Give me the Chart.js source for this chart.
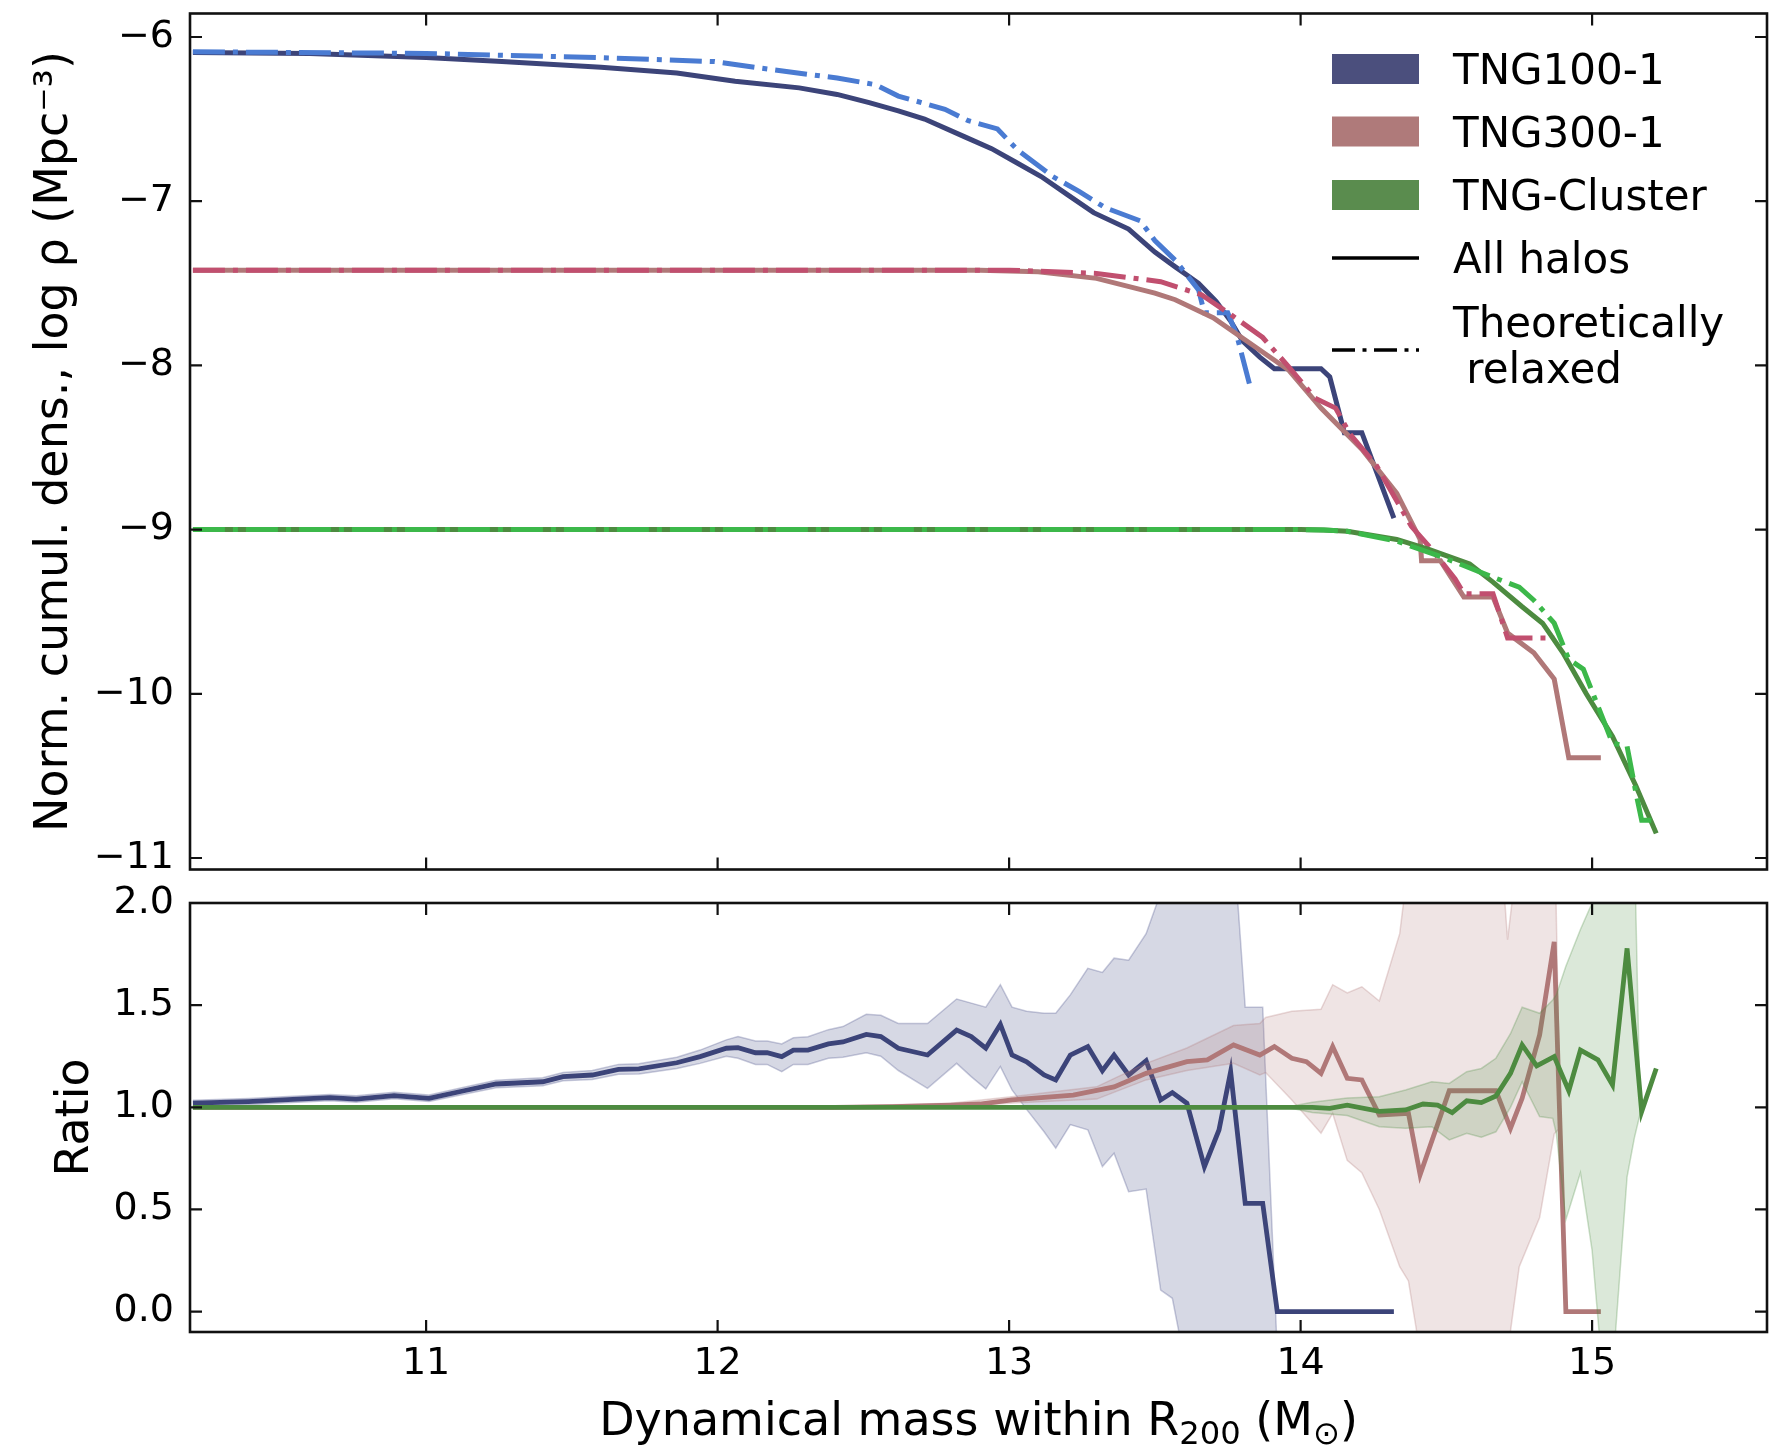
<!DOCTYPE html>
<html><head><meta charset="utf-8">
<script src="https://cdn.jsdelivr.net/npm/chart.js@4.4.1/dist/chart.umd.min.js"></script>
<style>
html,body{margin:0;padding:0;background:#fff;}
#wrap{position:relative;width:1775px;height:1448px;background:#fff;}
#c1{position:absolute;left:0;top:0;}
#c2{position:absolute;left:0;top:880px;}
</style></head><body>
<div id="wrap"><canvas id="c1" width="1775" height="880"></canvas><canvas id="c2" width="1775" height="568"></canvas></div>
<script>
// ---------------- DATA ----------------
const xTicks = [11, 12, 13, 14, 15];
const densityTicks = [-11, -10, -9, -8, -7, -6];
const ratioTicks = [0.0, 0.5, 1.0, 1.5, 2.0];
const xRange = [10.19, 15.6];
const densityRange = [-11.07, -5.857];
const ratioRange = [-0.1, 2.0];

const legendLabels = ['TNG100-1', 'TNG300-1', 'TNG-Cluster', 'All halos', 'Theoretically', ' relaxed'];
const xTitleParts = ['Dynamical mass within R', '200', ' (M', '\u2299', ')'];
const densityTitle = 'Norm. cumul. dens., log \u03C1 (Mpc\u207B\u00B3)';
const ratioTitle = 'Ratio';

// Top panel: cumulative densities
const tng100AllX = [10.2,10.6,11.0,11.26,11.6,11.86,12.06,12.28,12.41,12.52,12.62,12.71,12.85,12.94,13.02,13.11,13.2,13.29,13.41,13.5,13.57,13.65,13.71,13.76,13.80,13.86,13.91,14.07,14.10,14.15,14.21,14.32];
const tng100AllY = [-6.095,-6.10,-6.125,-6.15,-6.185,-6.22,-6.27,-6.31,-6.35,-6.40,-6.45,-6.50,-6.61,-6.68,-6.76,-6.85,-6.96,-7.07,-7.17,-7.31,-7.40,-7.50,-7.61,-7.73,-7.85,-7.95,-8.02,-8.02,-8.07,-8.41,-8.41,-8.93];
const tng100RelaxedX = [10.2,11.0,11.6,11.99,12.19,12.41,12.54,12.62,12.78,12.86,12.96,13.03,13.15,13.24,13.33,13.45,13.5,13.57,13.65,13.67,13.75,13.78,13.83];
const tng100RelaxedY = [-6.09,-6.10,-6.126,-6.15,-6.20,-6.25,-6.29,-6.36,-6.44,-6.51,-6.56,-6.69,-6.85,-6.94,-7.04,-7.12,-7.24,-7.36,-7.54,-7.68,-7.68,-7.81,-8.15];
const tng300AllX = [10.2,12.9,13.1,13.3,13.5,13.57,13.70,13.83,13.96,14.07,14.21,14.33,14.41,14.415,14.48,14.56,14.66,14.71,14.80,14.87,14.92,15.03];
const tng300AllY = [-7.42,-7.42,-7.43,-7.47,-7.56,-7.60,-7.71,-7.87,-8.03,-8.26,-8.51,-8.78,-9.06,-9.19,-9.19,-9.41,-9.41,-9.63,-9.75,-9.91,-10.39,-10.39];
const tng300RelaxedX = [10.2,13.0,13.3,13.52,13.66,13.76,13.87,13.96,14.05,14.12,14.17,14.26,14.38,14.44,14.53,14.56,14.66,14.71,14.87];
const tng300RelaxedY = [-7.42,-7.42,-7.44,-7.49,-7.57,-7.69,-7.83,-8.01,-8.20,-8.26,-8.42,-8.61,-8.98,-9.10,-9.30,-9.39,-9.39,-9.66,-9.66];
const clusterAllX = [10.2,14.0,14.08,14.16,14.33,14.44,14.58,14.66,14.76,14.83,14.90,14.98,15.07,15.15,15.22];
const clusterAllY = [-9.0,-9.0,-9.003,-9.01,-9.06,-9.12,-9.21,-9.32,-9.47,-9.57,-9.75,-10.0,-10.26,-10.56,-10.85];
const clusterRelaxedX = [10.2,14.0,14.08,14.16,14.33,14.49,14.66,14.75,14.80,14.87,14.92,14.97,15.07,15.12,15.15,15.17,15.21];
const clusterRelaxedY = [-9.0,-9.0,-9.003,-9.01,-9.07,-9.17,-9.29,-9.35,-9.43,-9.57,-9.79,-9.85,-10.30,-10.32,-10.60,-10.77,-10.77];

// Bottom panel: ratios
const tng100RatioX = [10.2,10.39,10.56,10.67,10.76,10.89,11.01,11.13,11.24,11.40,11.47,11.57,11.66,11.73,11.86,11.94,12.03,12.07,12.13,12.17,12.22,12.26,12.31,12.38,12.43,12.51,12.56,12.62,12.72,12.82,12.87,12.92,12.97,13.01,13.06,13.12,13.16,13.21,13.27,13.32,13.36,13.41,13.47,13.52,13.56,13.61,13.67,13.72,13.76,13.81,13.87,13.92,14.32];
const tng100RatioY = [1.02,1.028,1.04,1.047,1.04,1.057,1.044,1.081,1.114,1.125,1.15,1.158,1.186,1.188,1.218,1.248,1.289,1.292,1.267,1.267,1.248,1.28,1.28,1.31,1.32,1.357,1.346,1.289,1.256,1.378,1.346,1.289,1.406,1.256,1.223,1.158,1.134,1.256,1.297,1.179,1.256,1.158,1.228,1.036,1.072,1.02,0.709,0.889,1.174,0.53,0.53,0.0,0.0];
const tng100BandX = tng100RatioX.slice(0, 52);
const tng100BandUpper = [1.035,1.043,1.055,1.062,1.056,1.073,1.06,1.098,1.132,1.145,1.17,1.18,1.21,1.213,1.245,1.28,1.33,1.346,1.325,1.325,1.31,1.34,1.345,1.38,1.395,1.455,1.45,1.41,1.41,1.53,1.51,1.49,1.60,1.49,1.47,1.46,1.46,1.55,1.68,1.66,1.73,1.72,1.85,2.05,2.3,2.5,2.5,2.5,2.5,1.49,1.49,-0.2];
const tng100BandLower = [1.005,1.013,1.025,1.032,1.025,1.042,1.028,1.064,1.096,1.105,1.13,1.136,1.162,1.163,1.19,1.215,1.25,1.24,1.21,1.21,1.174,1.21,1.21,1.24,1.245,1.267,1.25,1.18,1.093,1.215,1.15,1.09,1.2,1.085,0.99,0.88,0.80,0.915,0.89,0.71,0.775,0.587,0.60,0.105,0.065,-0.3,-0.5,-0.5,-0.5,-0.5,-0.5,-0.5];

const tng300RatioX = [10.2,12.4,12.6,12.8,12.9,13.01,13.22,13.36,13.47,13.61,13.68,13.77,13.86,13.91,13.97,14.02,14.07,14.11,14.16,14.21,14.27,14.37,14.41,14.51,14.67,14.72,14.76,14.82,14.87,14.91,15.03];
const tng300RatioY = [1.0,1.0,1.003,1.01,1.016,1.036,1.06,1.10,1.166,1.223,1.232,1.305,1.256,1.297,1.24,1.223,1.166,1.297,1.142,1.134,0.962,0.97,0.67,1.081,1.081,0.897,1.044,1.354,1.81,0.0,0.0];
const tng300BandX = [12.4,12.8,13.0,13.3,13.47,13.61,13.77,13.86,13.88,13.97,14.07,14.11,14.16,14.21,14.27,14.34,14.37,14.41,14.62,14.70,14.71,14.75,14.82,14.87,14.89];
const tng300BandUpper = [1.005,1.02,1.05,1.10,1.215,1.29,1.40,1.41,1.44,1.47,1.48,1.60,1.56,1.59,1.52,1.85,2.2,2.5,2.5,2.02,1.82,2.3,2.5,2.5,0.95];
const tng300BandLower = [0.995,1.0,1.02,1.04,1.134,1.18,1.215,1.158,1.17,1.036,0.873,0.97,0.74,0.68,0.50,0.22,0.15,-0.2,-0.2,-0.2,-0.2,0.22,0.46,0.87,0.9];

const clusterRatioX = [10.2,14.0,14.04,14.10,14.16,14.27,14.36,14.42,14.47,14.52,14.57,14.62,14.67,14.72,14.76,14.81,14.87,14.92,14.96,15.02,15.07,15.12,15.17,15.22];
const clusterRatioY = [1.0,1.0,1.0,0.995,1.01,0.98,0.987,1.016,1.011,0.974,1.032,1.023,1.055,1.166,1.305,1.203,1.248,1.081,1.28,1.232,1.109,1.778,0.979,1.19];
const clusterBandX = [13.95,14.04,14.16,14.27,14.36,14.45,14.51,14.57,14.62,14.67,14.72,14.76,14.82,14.865,14.877,14.91,14.96,15.0,15.03,15.07,15.12,15.145,15.165];
const clusterBandUpper = [1.0,1.025,1.045,1.052,1.085,1.125,1.117,1.174,1.19,1.24,1.36,1.49,1.46,1.525,1.55,1.69,1.87,2.0,2.2,2.4,2.4,2.3,0.97];
const clusterBandLower = [1.0,0.975,0.96,0.905,0.897,0.905,0.84,0.873,0.853,0.88,1.0,1.125,0.955,0.946,0.873,0.45,0.68,0.3,-0.2,-0.3,0.66,0.85,0.97];

// ---------------- STYLE ----------------
const FONT = "'DejaVu Sans', 'Liberation Sans', sans-serif";
const C = {
  navy: '#3c4479', blue: '#4a7bd2', rosy: '#b07878', crimson: '#c14f6f', green: '#4d8b40', lime: '#3cb84a',
  navyPatch: '#4b4f7d', rosyPatch: '#af7a7a', greenPatch: '#5a8c4e',
  navyBand: 'rgba(60,70,128,0.21)', navyEdge: 'rgba(60,70,128,0.28)',
  rosyBand: 'rgba(176,120,120,0.2)', rosyEdge: 'rgba(176,120,120,0.28)',
  greenBand: 'rgba(77,139,64,0.2)', greenEdge: 'rgba(77,139,64,0.28)'
};
const LW = 5;
const DASHDOT = [32, 8, 5, 8];
const TICK_SIZE = 38, TITLE_SIZE = 46, LEGEND_SIZE = 42;
Chart.defaults.font.family = FONT;
Chart.defaults.color = '#000';

const pts = (xs, ys) => xs.map((x, i) => ({x: x, y: ys[i]}));
const minus = v => (v < 0 ? '\u2212' + Math.abs(v) : String(v));

function lineDS(xs, ys, color, dash, width) {
  return {data: pts(xs, ys), borderColor: color, borderWidth: width || LW, borderDash: dash || [],
          pointRadius: 0, fill: false, clip: 0, tension: 0};
}
function bandDS(xs, ys, edge, fillColor, isUpper) {
  return {data: pts(xs, ys), borderColor: edge, borderWidth: 1.5, pointRadius: 0,
          backgroundColor: fillColor, fill: isUpper ? '+1' : false, clip: 0, tension: 0};
}

const framePlugin = {
  id: 'frame',
  afterDatasetsDraw(chart, args, opts) {
    const {ctx, chartArea: a, scales} = chart;
    ctx.save();
    ctx.strokeStyle = '#111';
    ctx.lineWidth = 2.2;
    ctx.beginPath();
    const L = 12;
    opts.xTicks.forEach(v => {
      const p = scales.x.getPixelForValue(v);
      ctx.moveTo(p, a.bottom); ctx.lineTo(p, a.bottom - L);
      ctx.moveTo(p, a.top); ctx.lineTo(p, a.top + L);
    });
    opts.yTicks.forEach(v => {
      const p = scales.y.getPixelForValue(v);
      ctx.moveTo(a.left, p); ctx.lineTo(a.left + L, p);
      ctx.moveTo(a.right, p); ctx.lineTo(a.right - L, p);
    });
    ctx.stroke();
    ctx.lineWidth = 2.6;
    ctx.strokeRect(a.left, a.top, a.right - a.left, a.bottom - a.top);
    ctx.restore();
  }
};

const legendPlugin = {
  id: 'legendBox',
  afterDraw(chart) {
    const {ctx, chartArea: a} = chart;
    const x0 = a.right - 435, w = 87, tx = a.right - 314;
    ctx.save();
    const patches = [C.navyPatch, C.rosyPatch, C.greenPatch];
    const pTop = [54, 116.5, 180];
    patches.forEach((col, i) => { ctx.fillStyle = col; ctx.fillRect(x0, pTop[i], w, 30); });
    ctx.strokeStyle = '#000'; ctx.lineWidth = 3.5;
    ctx.beginPath(); ctx.moveTo(x0, 258); ctx.lineTo(x0 + w, 258); ctx.stroke();
    ctx.setLineDash([23, 7.5, 4, 7.5]);
    ctx.beginPath(); ctx.moveTo(x0, 350); ctx.lineTo(x0 + w, 350); ctx.stroke();
    ctx.setLineDash([]);
    ctx.fillStyle = '#000';
    ctx.font = LEGEND_SIZE + 'px ' + FONT;
    ctx.textBaseline = 'alphabetic';
    const base = [84, 147, 210, 273, 337, 383];
    legendLabels.forEach((t, i) => ctx.fillText(t, tx, base[i]));
    ctx.restore();
  }
};

const xTitlePlugin = {
  id: 'xTitle',
  afterDraw(chart) {
    const {ctx, chartArea: a} = chart;
    const S = TITLE_SIZE, sub = 0.7 * S;
    const spec = [[xTitleParts[0], S, 0], [xTitleParts[1], sub, 9], [xTitleParts[2], S, 0], [xTitleParts[3], sub, 9], [xTitleParts[4], S, 0]];
    ctx.save();
    ctx.fillStyle = '#000';
    ctx.textBaseline = 'alphabetic';
    let total = 0;
    spec.forEach(s => { ctx.font = s[1] + 'px ' + FONT; total += ctx.measureText(s[0]).width; });
    let x = (a.left + a.right) / 2 - total / 2;
    const y = 555;
    spec.forEach(s => { ctx.font = s[1] + 'px ' + FONT; ctx.fillText(s[0], x, y + s[2]); x += ctx.measureText(s[0]).width; });
    ctx.restore();
  }
};

function yScale(range, ticks, title, fmt, titlePad) {
  return {
    type: 'linear', min: range[0], max: range[1],
    afterBuildTicks: s => { s.ticks = ticks.map(v => ({value: v})); },
    ticks: {font: {size: TICK_SIZE}, color: '#000', padding: 16, callback: fmt, autoSkip: false},
    grid: {display: false, drawTicks: false}, border: {display: false},
    title: {display: true, text: title, font: {size: TITLE_SIZE}, color: '#000', padding: {top: titlePad, bottom: 0}},
    afterFit: s => { s.width = 190; s.paddingTop = 0; s.paddingBottom = 0; }
  };
}

// ---------------- TOP CHART ----------------
const topSets = [
  lineDS(tng100AllX, tng100AllY, C.navy),
  lineDS(tng100RelaxedX, tng100RelaxedY, C.blue, DASHDOT),
  lineDS(tng300AllX, tng300AllY, C.rosy),
  lineDS(tng300RelaxedX, tng300RelaxedY, C.crimson, DASHDOT),
  lineDS(clusterAllX, clusterAllY, C.green),
  lineDS(clusterRelaxedX, clusterRelaxedY, C.lime, DASHDOT)
];
topSets.forEach((d, i) => d.order = -i);

new Chart(document.getElementById('c1'), {
  type: 'line',
  data: {datasets: topSets},
  options: {
    responsive: false, animation: false, devicePixelRatio: 1,
    layout: {padding: {left: 0, top: 13.5, right: 8, bottom: 10.5}},
    plugins: {legend: {display: false}, tooltip: {enabled: false}, frame: {xTicks: xTicks, yTicks: densityTicks}},
    scales: {
      x: {type: 'linear', min: xRange[0], max: xRange[1], display: false},
      y: yScale(densityRange, densityTicks, densityTitle, v => minus(v), 27)
    }
  },
  plugins: [framePlugin, legendPlugin]
});

// ---------------- BOTTOM CHART ----------------
const botSets = [
  bandDS(tng100BandX, tng100BandUpper, C.navyEdge, C.navyBand, true),
  bandDS(tng100BandX, tng100BandLower, C.navyEdge, C.navyBand, false),
  lineDS(tng100RatioX, tng100RatioY, C.navy, null, 4.8),
  bandDS(tng300BandX, tng300BandUpper, C.rosyEdge, C.rosyBand, true),
  bandDS(tng300BandX, tng300BandLower, C.rosyEdge, C.rosyBand, false),
  lineDS(tng300RatioX, tng300RatioY, C.rosy, null, 4.8),
  bandDS(clusterBandX, clusterBandUpper, C.greenEdge, C.greenBand, true),
  bandDS(clusterBandX, clusterBandLower, C.greenEdge, C.greenBand, false),
  lineDS(clusterRatioX, clusterRatioY, C.green, null, 4.8)
];
botSets.forEach((d, i) => d.order = -i);

new Chart(document.getElementById('c2'), {
  type: 'line',
  data: {datasets: botSets},
  options: {
    responsive: false, animation: false, devicePixelRatio: 1,
    layout: {padding: {left: 0, top: 23, right: 8, bottom: 0}},
    plugins: {legend: {display: false}, tooltip: {enabled: false}, filler: {propagate: false}, frame: {xTicks: xTicks, yTicks: ratioTicks}},
    scales: {
      x: {
        type: 'linear', min: xRange[0], max: xRange[1],
        afterBuildTicks: s => { s.ticks = xTicks.map(v => ({value: v})); },
        ticks: {font: {size: TICK_SIZE}, color: '#000', padding: 9, autoSkip: false, maxRotation: 0, callback: v => String(v)},
        grid: {display: false, drawTicks: false}, border: {display: false},
        afterFit: s => { s.height = 116; s.paddingLeft = 0; s.paddingRight = 0; }
      },
      y: yScale(ratioRange, ratioTicks, ratioTitle, v => v.toFixed(1), 48)
    }
  },
  plugins: [framePlugin, xTitlePlugin]
});
</script>
</body></html>
